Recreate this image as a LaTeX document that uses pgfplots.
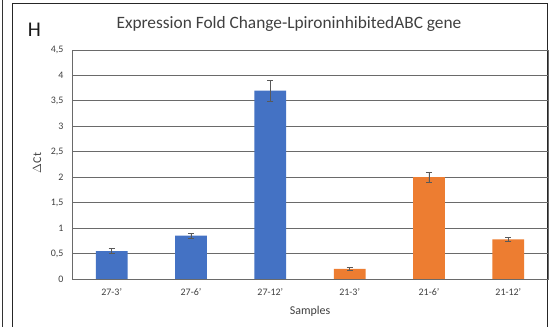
\documentclass[border=0pt]{standalone}
\usepackage{pgfplots}
\pgfplotsset{compat=1.18}
\usepackage{fontspec}
\setmainfont{Carlito}
\definecolor{exblue}{HTML}{4472C4}
\definecolor{exorange}{HTML}{ED7D31}
\definecolor{gridc}{HTML}{6A6A6A}
\definecolor{errc}{HTML}{595959}
\definecolor{txt}{HTML}{404040}
\begin{document}
\begin{tikzpicture}
\useasboundingbox (0,0) rectangle (549bp,327bp);
\fill[white] (0,0) rectangle (549bp,327bp);
\draw[line width=0.8bp, black!80] (2.5bp,0) -- (2.5bp,327bp);
\draw[line width=0.8bp, black!85] (12.5bp,0) -- (12.5bp,323.5bp) -- (547.5bp,323.5bp) -- (547.5bp,0);
\node[font=\fontsize{21}{24}\selectfont, anchor=center, text=black!90] at (34.5bp,297.5bp) {H};
\node[font=\fontsize{17.4}{20}\selectfont, anchor=center, text=txt] at (289bp,303bp) {Expression Fold Change-LpironinhibitedABC gene};
\begin{axis}[
  at={(72bp,48bp)}, anchor=south west,
  scale only axis, width=476bp, height=229bp,
  xmin=-0.5, xmax=5.5, ymin=0, ymax=4.5,
  xtick={0,1,2,3,4,5},
  xticklabels={27-3',27-6',27-12',21-3',21-6',21-12'},
  ytick={0,0.5,1,1.5,2,2.5,3,3.5,4,4.5},
  /pgf/number format/fixed,
  /pgf/number format/use comma,
  /pgf/number format/precision=1,
  /pgf/number format/assume math mode=true,
  tick label style={font=\fontsize{10}{12}\selectfont, text=txt},
  xticklabel style={yshift=-6bp},
  yticklabel style={xshift=-5bp},
  major tick length=0pt,
  ymajorgrids, grid style={gridc, line width=0.8bp},
  axis line style={gridc, line width=0.8bp},
  xlabel={Samples}, ylabel={$\Delta$Ct},
  xlabel style={font=\fontsize{12}{14}\selectfont, text=txt, at={(rel axis cs:0.5,-0.1397)}, anchor=center},
  ylabel style={font=\fontsize{12}{14}\selectfont, text=txt, at={(rel axis cs:-0.0735,0.5066)}, anchor=center},
  ybar, bar width=0.4, bar shift=0pt,
  enlarge x limits=false,
]
\addplot[fill=exblue, draw=none,
  error bars/.cd, y dir=both, y explicit,
  error bar style={errc, line width=0.6bp},
  error mark options={errc, rotate=90, mark size=3bp, line width=0.6bp}]
  table[x=x, y=y, y error=e] {
x y e
0 0.55 0.05
1 0.85 0.05
2 3.70 0.20
};
\addplot[fill=exorange, draw=none,
  error bars/.cd, y dir=both, y explicit,
  error bar style={errc, line width=0.6bp},
  error mark options={errc, rotate=90, mark size=3bp, line width=0.6bp}]
  table[x=x, y=y, y error=e] {
x y e
3 0.20 0.03
4 2.00 0.10
5 0.78 0.03
};
\end{axis}
\end{tikzpicture}
\end{document}
